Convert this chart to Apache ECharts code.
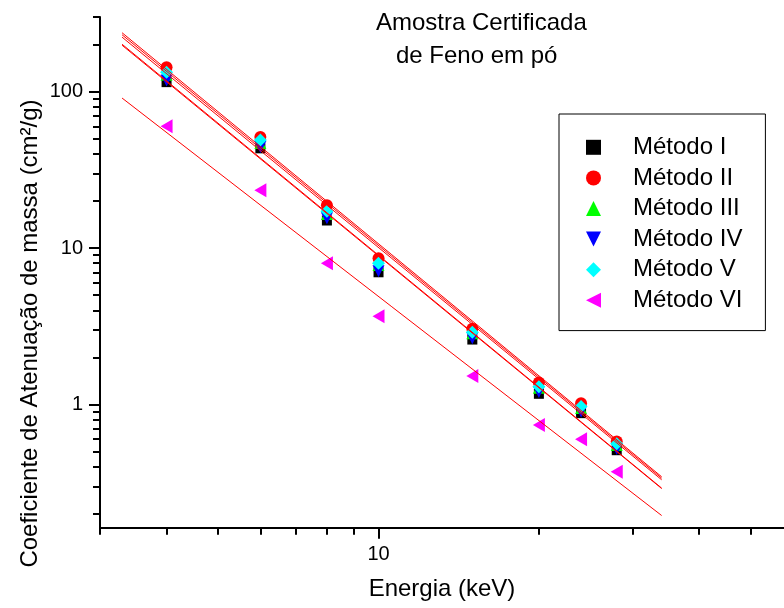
<!DOCTYPE html>
<html>
<head>
<meta charset="utf-8">
<script src="https://cdn.jsdelivr.net/npm/echarts@6/dist/echarts.min.js"></script>
<style>
html,body{margin:0;padding:0;background:#fff;}
#chart{width:784px;height:608px;}
</style>
</head>
<body>
<div id="chart"></div>
<script>
// Energy (keV)
const energy = [4, 6, 8, 10, 15, 20, 24, 28];
// Mass attenuation coefficient (cm²/g) per method
const metodoI   = [115, 43.4, 15.0, 7.0, 2.6, 1.17, 0.88, 0.51];
const metodoII  = [143, 51.3, 18.8, 8.6, 3.05, 1.38, 1.02, 0.58];
const metodoIII = [128, 47.0, 16.5, 7.8, 2.85, 1.28, 0.95, 0.55];
const metodoIV  = [118, 44.3, 15.5, 7.1, 2.65, 1.20, 0.90, 0.52];
const metodoV   = [133, 49.0, 17.2, 8.0, 2.90, 1.30, 0.97, 0.56];
const metodoVI  = [60, 23.4, 8.0, 3.67, 1.52, 0.74, 0.60, 0.371];
// Fitted power-law lines (end points)
const fitX   = [3.3, 34];
const fitI   = [198, 0.290];
const fitII  = [238, 0.345];
const fitIII = [223, 0.330];
const fitIV  = [201, 0.292];
const fitV   = [231, 0.338];
const fitVI  = [91, 0.195];
// Tick values
const xMajorTicks = [10];
const xMinorTicks = [3, 4, 5, 6, 7, 8, 9, 20, 30, 40, 50];
const yMajorTicks = [1, 10, 100];
const yMinorTicks = [0.2, 0.3, 0.4, 0.5, 0.6, 0.7, 0.8, 0.9, 2, 3, 4, 5, 6, 7, 8, 9, 20, 30, 40, 50, 60, 70, 80, 90, 200, 300];
const names = ['Método I', 'Método II', 'Método III', 'Método IV', 'Método V', 'Método VI'];

const FONT = 'Liberation Sans, Arial, Helvetica, sans-serif';
const pts = arr => energy.map((e, i) => [e, arr[i]]);
const fit = arr => fitX.map((e, i) => [e, arr[i]]);

const DOWN_TRI = 'path://M0,0 L10,0 L5,10 Z';
const LEFT_TRI = 'path://M10,0 L10,10 L0,5 Z';

const scatterDefs = [
  {name: names[0], data: metodoI,   symbol: 'rect',     size: 10, color: '#000000', rot: 0,   icon: 'rect'},
  {name: names[1], data: metodoII,  symbol: 'circle',   size: 12, color: '#ff0000', rot: 0,   icon: 'circle'},
  {name: names[2], data: metodoIII, symbol: 'triangle', size: 12, color: '#00ff00', rot: 0,   icon: 'triangle'},
  {name: names[3], data: metodoIV,  symbol: 'triangle', size: 12, color: '#0000ff', rot: 180, icon: DOWN_TRI},
  {name: names[4], data: metodoV,   symbol: 'diamond',  size: 13, color: '#00ffff', rot: 0,   icon: 'diamond'},
  {name: names[5], data: metodoVI,  symbol: 'triangle', size: [14, 12], color: '#ff00ff', rot: 90, icon: LEFT_TRI}
];
const fits = [fitI, fitII, fitIII, fitIV, fitV, fitVI];

const series = scatterDefs.map(d => ({
  name: d.name, type: 'scatter', data: pts(d.data),
  symbol: d.symbol, symbolSize: d.size, symbolRotate: d.rot,
  itemStyle: {color: d.color, opacity: 1},
  emphasis: {disabled: true}, z: 2
})).concat(fits.map((f, i) => ({
  name: 'Ajuste ' + (i + 1), type: 'line', data: fit(f),
  showSymbol: false, symbol: 'none',
  lineStyle: {color: '#ff0000', width: 1},
  emphasis: {disabled: true}, z: 3
})));

const chart = echarts.init(document.getElementById('chart'), null, {renderer: 'canvas'});
chart.setOption({
  animation: false,
  backgroundColor: '#ffffff',
  title: [
    {text: 'Amostra Certificada', left: 376, top: 11, padding: 0, textStyle: {fontFamily: FONT, fontSize: 24, fontWeight: 'normal', color: '#000'}},
    {text: 'de Feno em pó', left: 396, top: 44, padding: 0, textStyle: {fontFamily: FONT, fontSize: 24, fontWeight: 'normal', color: '#000'}}
  ],
  grid: {left: 100, right: 0, top: 17, bottom: 80.3, containLabel: false},
  legend: {
    data: scatterDefs.map(d => ({name: d.name, icon: d.icon})),
    orient: 'vertical', left: 559, top: 114,
    padding: [18, 23, 15, 27], itemGap: 0, itemWidth: 15, itemHeight: 15,
    borderColor: '#000', borderWidth: 1, backgroundColor: '#fff',
    textStyle: {fontFamily: FONT, fontSize: 24, color: '#000', lineHeight: 30.6, padding: [0, 0, 0, 27]},
    selectedMode: false
  },
  xAxis: [{
    type: 'log', logBase: 10, min: 3, max: 57.7,
    name: 'Energia (keV)', nameLocation: 'middle', nameGap: 50,
    nameTextStyle: {fontFamily: FONT, fontSize: 24, color: '#000'},
    axisLine: {show: true, onZero: false, lineStyle: {color: '#000', width: 2}},
    axisTick: {show: true, inside: false, length: 11, lineStyle: {color: '#000', width: 2}, customValues: xMajorTicks},
    axisLabel: {show: true, margin: 17, fontFamily: FONT, fontSize: 20, color: '#000', customValues: xMajorTicks, formatter: v => String(v)},
    splitLine: {show: false}, minorTick: {show: false}
  }, {
    type: 'log', logBase: 10, min: 3, max: 57.7, position: 'bottom', offset: 0,
    axisLine: {show: false},
    axisTick: {show: true, inside: false, length: 7, lineStyle: {color: '#000', width: 2}, customValues: xMinorTicks},
    axisLabel: {show: false}, splitLine: {show: false}
  }],
  yAxis: [{
    type: 'log', logBase: 10, min: 0.163, max: 300,
    axisLine: {show: true, onZero: false, lineStyle: {color: '#000', width: 2}},
    axisTick: {show: true, inside: false, length: 11, lineStyle: {color: '#000', width: 2}, customValues: yMajorTicks},
    axisLabel: {show: true, margin: 17, fontFamily: FONT, fontSize: 20, color: '#000', customValues: yMajorTicks, formatter: v => String(v)},
    splitLine: {show: false}
  }, {
    type: 'log', logBase: 10, min: 0.163, max: 300, position: 'left', offset: 0,
    axisLine: {show: false},
    axisTick: {show: true, inside: false, length: 7, lineStyle: {color: '#000', width: 2}, customValues: yMinorTicks},
    axisLabel: {show: false}, splitLine: {show: false}
  }],
  graphic: [{
    type: 'text', x: 30, y: 333.5, rotation: Math.PI / 2,
    style: {text: 'Coeficiente de Atenuação de massa (cm²/g)', font: '24px ' + FONT, fill: '#000', align: 'center', verticalAlign: 'middle'}
  }],
  series: series
});
</script>
</body>
</html>
